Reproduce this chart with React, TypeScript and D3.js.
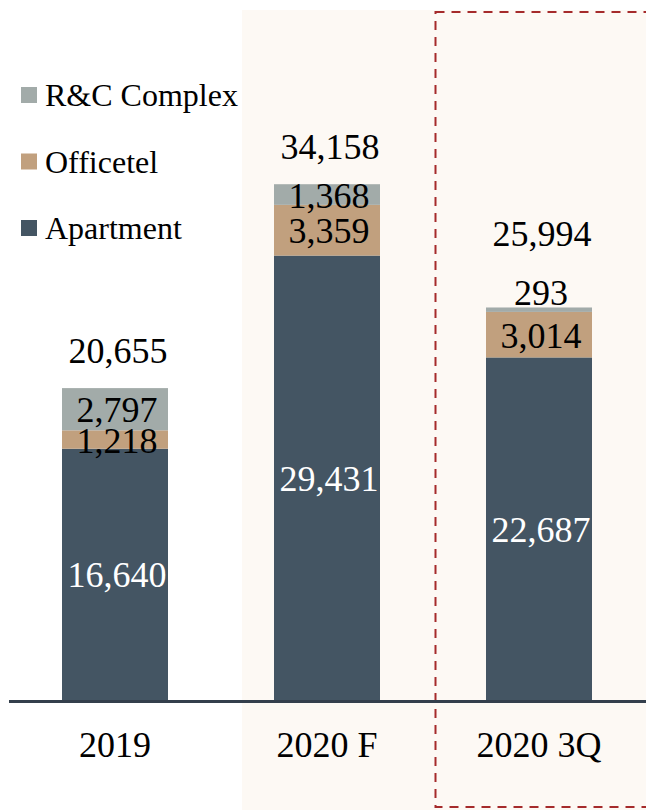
import React from "react";
import * as d3 from "d3";

const categories = ["2019", "2020 F", "2020 3Q"];
const apartment = [16640, 29431, 22687];
const officetel = [1218, 3359, 3014];
const rcComplex = [2797, 1368, 293];
const totals = [20655, 34158, 25994];
const seriesNames = ["Apartment", "Officetel", "R&C Complex"];
const seriesColors = ["#445563", "#c1a07e", "#a2aba9"];

const W = 646;
const H = 810;
const FONT = '"Liberation Serif", "Times New Roman", Times, "DejaVu Serif", serif';

export default function App() {
  const x = d3.scaleBand<string>().domain(categories).range([9, 645]).paddingInner(0.5).paddingOuter(0.25);
  const y = d3.scaleLinear().domain([0, 46357]).range([700, 0]);

  const rows = categories.map((c, i) => ({
    cat: c,
    Apartment: apartment[i],
    Officetel: officetel[i],
    "R&C Complex": rcComplex[i],
  }));
  const stack = d3.stack<any>().keys(seriesNames)(rows);
  const fmt = d3.format(",");

  const legendOrder = ["R&C Complex", "Officetel", "Apartment"];
  const ts = { fontFamily: FONT };

  return (
    <svg width={W} height={H} style={{ position: "fixed", left: 0, top: 0, background: "#ffffff", fontFamily: FONT }}>
      {/* highlighted background */}
      <rect x={242} y={10} width={W - 242} height={H - 10} fill="#fdf9f4" />
      {/* dashed box */}
      <rect x={435.5} y={12} width={W} height={795} fill="none" stroke="#a52b2b" strokeWidth={2} strokeDasharray="9,7" />

      {stack.map((s, si) => (
        <g key={s.key} fill={seriesColors[si]}>
          {s.map((d, i) => (
            <rect key={i} x={x(categories[i])!} y={y(d[1])} width={x.bandwidth()} height={y(d[0]) - y(d[1])} />
          ))}
        </g>
      ))}

      {/* segment labels */}
      {stack.map((s, si) =>
        s.map((d, i) => {
          const h = y(d[0]) - y(d[1]);
          const cx = x(categories[i])! + x.bandwidth() / 2 + 2;
          const val = d[1] - d[0];
          if (h < 12) {
            return (
              <text key={s.key + i} style={ts} x={cx} y={y(d[1]) - 2} textAnchor="middle" fontSize={36} fill="#000">
                {fmt(val)}
              </text>
            );
          }
          return (
            <text key={s.key + i} style={ts} x={cx} y={(y(d[0]) + y(d[1])) / 2 + 1} dominantBaseline="central" textAnchor="middle" fontSize={36} fill={si === 0 ? "#ffffff" : "#000"}>
              {fmt(val)}
            </text>
          );
        })
      )}

      {/* totals */}
      {totals.map((t, i) => {
        const topSeg = stack[stack.length - 1][i];
        const small = y(topSeg[0]) - y(topSeg[1]) < 12;
        const base = y(t) - 25 - (small ? 36 : 0);
        return (
          <text key={i} style={ts} x={x(categories[i])! + x.bandwidth() / 2 + 3} y={base} textAnchor="middle" fontSize={36} fill="#000">
            {fmt(t)}
          </text>
        );
      })}

      {/* baseline */}
      <line x1={9} x2={W} y1={701.5} y2={701.5} stroke="#343f4c" strokeWidth={3} />

      {/* category labels */}
      {categories.map((c) => (
        <text key={c} style={ts} x={x(c)! + x.bandwidth() / 2} y={757} textAnchor="middle" fontSize={36} fill="#000">
          {c}
        </text>
      ))}

      {/* legend */}
      {legendOrder.map((name, i) => {
        const ci = seriesNames.indexOf(name);
        const cy = 95 + i * 66.5;
        return (
          <g key={name}>
            <rect x={21} y={cy - 8} width={16} height={16} fill={seriesColors[ci]} />
            <text style={ts} x={45} y={cy} dominantBaseline="central" fontSize={32} fill="#000">
              {name}
            </text>
          </g>
        );
      })}
    </svg>
  );
}
